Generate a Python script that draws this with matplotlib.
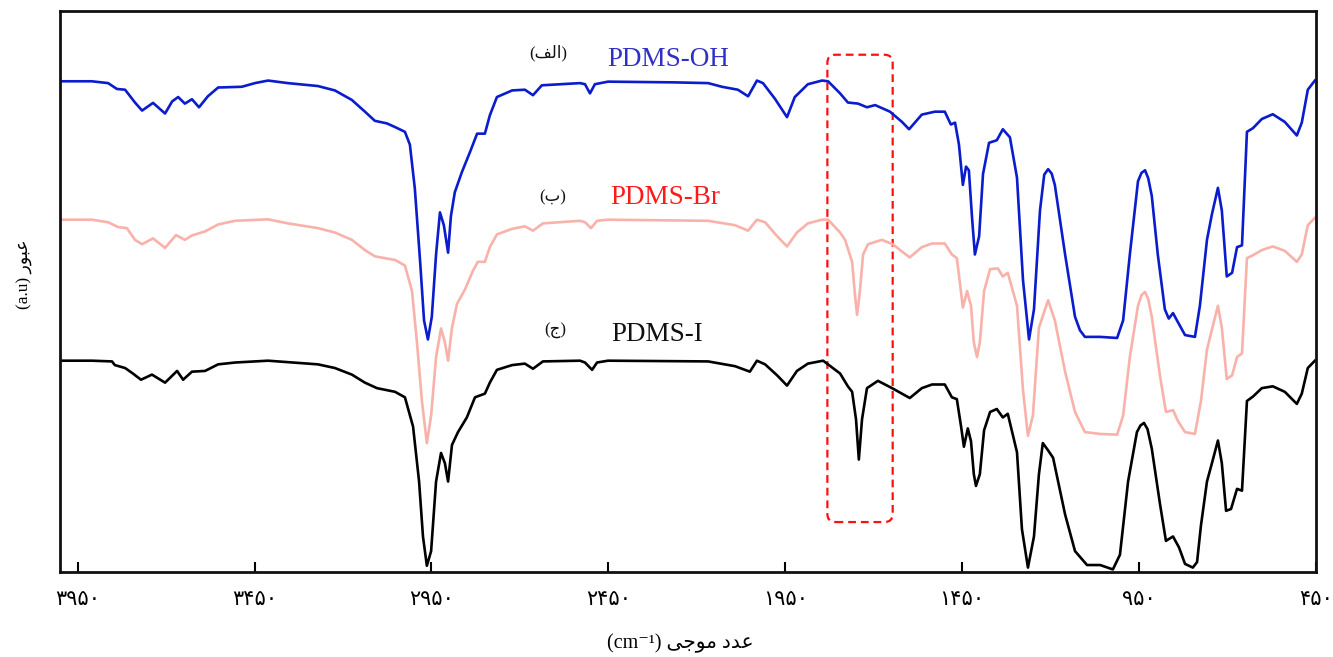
import matplotlib
matplotlib.use("Agg")
import matplotlib.pyplot as plt
from matplotlib.patches import FancyBboxPatch

# ---------------- data (wavenumber cm-1, transmittance a.u.) ----------------
wn_oh = [4000, 3910, 3864, 3839, 3816, 3788, 3768, 3737, 3703, 3683,
         3666, 3647, 3627, 3607, 3582, 3553, 3486, 3449, 3412, 3356,
         3271, 3223, 3175, 3138, 3110, 3076, 3053, 3025, 3011, 2997,
         2982, 2971, 2960, 2949, 2937, 2926, 2915, 2903, 2895, 2884,
         2864, 2841, 2821, 2799, 2785, 2765, 2722, 2686, 2663, 2638,
         2530, 2516, 2502, 2488, 2451, 2262, 2168, 2129, 2084, 2055,
         2030, 2013, 1979, 1945, 1923, 1886, 1846, 1829, 1795, 1773,
         1744, 1719, 1696, 1654, 1620, 1600, 1564, 1527, 1499, 1482,
         1470, 1459, 1448, 1439, 1431, 1422, 1414, 1402, 1391, 1374,
         1352, 1335, 1315, 1295, 1278, 1261, 1247, 1230, 1218, 1207,
         1197, 1188, 1159, 1131, 1117, 1103, 1060, 1012, 995, 976,
         953, 943, 933, 924, 914, 897, 877, 866, 854, 840,
         820, 792, 778, 758, 744, 727, 716, 702, 687, 673,
         659, 645, 628, 603, 572, 538, 504, 490, 473, 453]
t_oh = [1340, 1340, 1335, 1319, 1317, 1282, 1260, 1281, 1252, 1285,
        1297, 1279, 1291, 1269, 1299, 1323, 1325, 1335, 1342, 1335,
        1327, 1315, 1289, 1257, 1232, 1225, 1215, 1202, 1167, 1047,
        847, 687, 635, 697, 867, 982, 947, 872, 972, 1037,
        1092, 1147, 1197, 1197, 1247, 1297, 1315, 1317, 1302, 1329,
        1335, 1332, 1307, 1332, 1339, 1337, 1335, 1325, 1317, 1299,
        1342, 1335, 1292, 1242, 1297, 1332, 1342, 1340, 1307, 1282,
        1279, 1269, 1275, 1257, 1229, 1209, 1249, 1257, 1257, 1222,
        1227, 1167, 1057, 1107, 1097, 967, 867, 917, 1087, 1172,
        1179, 1209, 1187, 1077, 797, 635, 717, 987, 1085, 1100,
        1088, 1057, 867, 697, 660, 642, 642, 639, 687, 867,
        1067, 1090, 1097, 1075, 1027, 867, 717, 692, 707, 682,
        647, 642, 727, 907, 977, 1049, 987, 807, 817, 887,
        892, 1202, 1212, 1237, 1250, 1229, 1192, 1227, 1317, 1342]

wn_br = [4000, 3910, 3864, 3836, 3811, 3788, 3768, 3737, 3703, 3672,
         3647, 3627, 3590, 3553, 3505, 3412, 3356, 3271, 3223, 3175,
         3138, 3110, 3053, 3025, 3005, 2991, 2977, 2963, 2951, 2937,
         2923, 2912, 2903, 2892, 2878, 2855, 2833, 2819, 2799, 2785,
         2765, 2722, 2686, 2663, 2635, 2530, 2516, 2499, 2482, 2451,
         2168, 2092, 2055, 2030, 2007, 1973, 1945, 1917, 1886, 1846,
         1829, 1795, 1781, 1761, 1753, 1747, 1739, 1730, 1716, 1677,
         1646, 1620, 1598, 1564, 1535, 1499, 1479, 1465, 1456, 1448,
         1436, 1425, 1417, 1408, 1400, 1388, 1371, 1349, 1335, 1321,
         1295, 1278, 1264, 1250, 1233, 1207, 1188, 1159, 1131, 1103,
         1060, 1012, 995, 976, 953, 943, 933, 924, 914, 891,
         874, 854, 840, 820, 792, 775, 758, 744, 727, 716,
         702, 687, 673, 659, 645, 628, 603, 572, 538, 504,
         490, 473, 453]
t_br = [962, 962, 955, 942, 939, 907, 895, 911, 885, 920,
        907, 919, 930, 949, 959, 963, 952, 939, 927, 907,
        879, 862, 852, 837, 767, 627, 467, 352, 427, 587,
        665, 627, 577, 667, 732, 772, 822, 847, 847, 887,
        922, 937, 944, 932, 952, 959, 955, 939, 959, 962,
        959, 947, 932, 962, 955, 917, 889, 927, 952, 962,
        962, 927, 907, 847, 757, 702, 767, 867, 895, 907,
        895, 875, 859, 887, 897, 897, 867, 857, 787, 722,
        767, 727, 627, 587, 627, 767, 827, 829, 807, 817,
        727, 497, 372, 427, 667, 742, 687, 547, 437, 382,
        377, 375, 427, 587, 727, 756, 765, 745, 697, 537,
        437, 442, 412, 382, 377, 467, 607, 662, 727, 667,
        527, 537, 587, 597, 857, 865, 879, 889, 877, 847,
        867, 947, 967]

wn_i = [4000, 3910, 3853, 3845, 3816, 3794, 3771, 3740, 3703, 3669,
        3652, 3627, 3590, 3553, 3505, 3412, 3271, 3223, 3175, 3138,
        3104, 3053, 3025, 3002, 2985, 2974, 2963, 2951, 2937, 2923,
        2912, 2903, 2892, 2875, 2850, 2827, 2799, 2785, 2765, 2722,
        2686, 2663, 2635, 2530, 2516, 2496, 2482, 2451, 2168, 2092,
        2050, 2030, 2007, 1973, 1945, 1917, 1886, 1843, 1795, 1773,
        1761, 1750, 1742, 1733, 1719, 1688, 1648, 1620, 1598, 1564,
        1535, 1499, 1479, 1465, 1453, 1445, 1434, 1425, 1417, 1411,
        1400, 1388, 1371, 1352, 1335, 1321, 1295, 1281, 1264, 1247,
        1233, 1222, 1207, 1193, 1159, 1131, 1097, 1060, 1024, 1004,
        981, 956, 946, 936, 926, 914, 891, 874, 854, 837,
        820, 798, 786, 775, 758, 744, 727, 716, 704, 690,
        673, 659, 645, 628, 603, 572, 538, 504, 490, 473,
        453]
t_i = [577, 577, 575, 565, 557, 542, 525, 539, 517, 549,
       525, 547, 549, 567, 572, 577, 567, 557, 539, 517,
       502, 492, 477, 397, 247, 97, 17, 57, 247, 325,
       297, 247, 347, 382, 422, 477, 487, 517, 552, 565,
       569, 555, 575, 577, 572, 552, 572, 577, 575, 562,
       547, 577, 567, 537, 509, 549, 569, 577, 542, 507,
       492, 417, 307, 417, 502, 522, 502, 487, 475, 502,
       512, 512, 477, 472, 397, 342, 392, 357, 267, 235,
       267, 387, 437, 445, 422, 432, 327, 117, 12, 97,
       267, 352, 332, 312, 157, 57, 19, 19, 7, 47,
       247, 382, 400, 407, 390, 337, 187, 85, 97, 67,
       22, 12, 27, 127, 247, 297, 359, 297, 167, 172,
       227, 222, 467, 479, 502, 507, 492, 459, 487, 557,
       577]

tick_vals = [3950, 3450, 2950, 2450, 1950, 1450, 950, 450]
tick_labels = ["۳۹۵۰", "۳۴۵۰", "۲۹۵۰", "۲۴۵۰", "۱۹۵۰", "۱۴۵۰", "۹۵۰", "۴۵۰"]

series_names = ["PDMS-OH", "PDMS-Br", "PDMS-I"]
# Persian letters in visual (left-to-right) order with presentation forms
series_tags = ["(\uFED2\uFEDF\uFE8D)", "(\uFE8F)", "(\uFE9D)"]
xlabel_text = "(cm\u207B\u00B9) \uFEF0\uFE9F\uFEEE\uFEE3 \uFEA9\uFEAA\uFECB"
ylabel_text = "(a.u) \uFEAD\uFEEE\uFE92\uFECB"

# ---------------- figure ----------------
FAM = ["Liberation Serif", "DejaVu Sans"]
fig = plt.figure(figsize=(13.33, 6.57), dpi=100)
ax = fig.add_axes([0.0450, 0.1294, 0.9422, 0.8539])

line_colors = ["#0a1ccc", "#f8b2aa", "#000000"]
for wn, t, c in zip([wn_oh, wn_br, wn_i], [t_oh, t_br, t_i], line_colors):
    ax.plot(wn, t, color=c, lw=1.9, solid_joinstyle="round")

ax.set_xlim(4000, 450)
ax.set_ylim(0, 1532)
ax.set_yticks([])
ax.set_xticks(tick_vals)
ax.set_xticklabels(tick_labels, family=FAM, fontsize=15)
ax.tick_params(axis="x", direction="in", length=7, width=1.5, pad=14)
for s in ax.spines.values():
    s.set_linewidth(2.0)
    s.set_color("#111111")

# series labels
text_colors = ["#3030c8", "#ff1a1a", "#111111"]
name_pos = [(0.436, 0.914), (0.438, 0.667), (0.439, 0.424)]
tag_pos = [(0.389, 0.925), (0.392, 0.668), (0.394, 0.430)]
for name, tag, c, npos, tpos in zip(series_names, series_tags, text_colors, name_pos, tag_pos):
    ax.text(npos[0], npos[1], name, transform=ax.transAxes, color=c,
            family=FAM, fontsize=19.5, ha="left", va="center")
    ax.text(tpos[0], tpos[1], tag, transform=ax.transAxes, color="#111111",
            family=FAM, fontsize=12, ha="center", va="center")

# dashed highlight box
x0, x1 = 0.611, 0.663
y0, y1 = 0.089, 0.922
box = FancyBboxPatch((x0, y0), x1 - x0, y1 - y0,
                     boxstyle="round,pad=0,rounding_size=0.0065",
                     mutation_aspect=1256 / 561,
                     transform=ax.transAxes, fill=False,
                     edgecolor="#ff1010", lw=1.6, ls=(0, (3.5, 2.2)))
ax.add_patch(box)

fig.text(680 / 1333, 1 - 644 / 657, xlabel_text, family=FAM, fontsize=14.5,
         ha="center", va="center")
fig.text(25 / 1333, 1 - 274 / 657, ylabel_text, family=FAM, fontsize=12.5,
         ha="center", va="center", rotation=90)

fig.savefig("out.png", dpi=100)
